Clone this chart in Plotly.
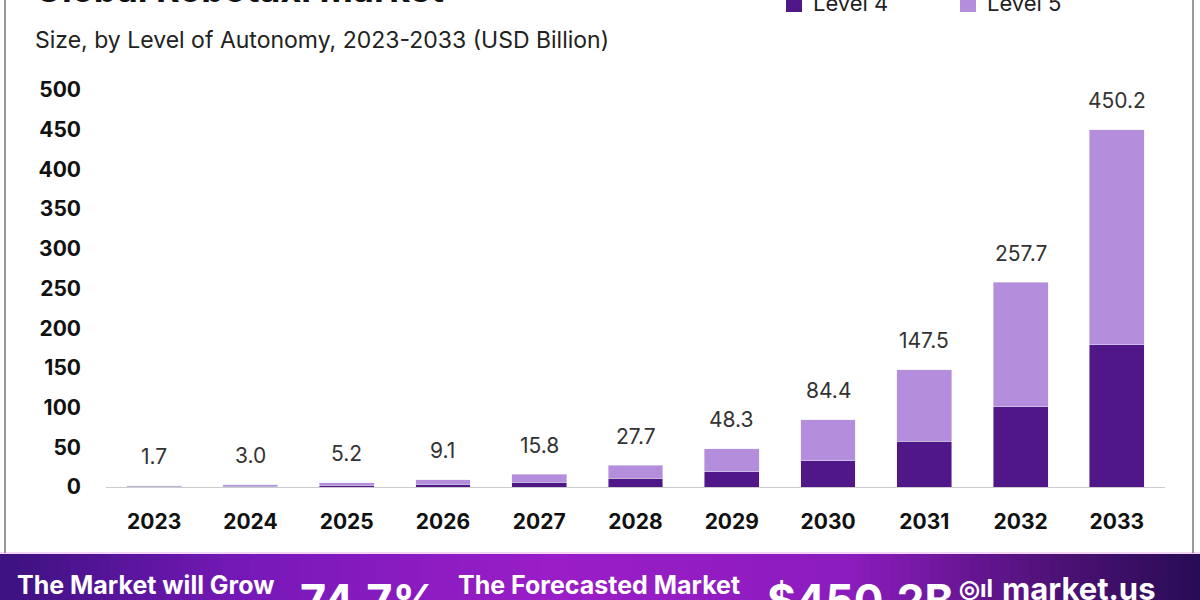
import plotly.graph_objects as go

years = ["2023", "2024", "2025", "2026", "2027", "2028", "2029", "2030", "2031", "2032", "2033"]
totals = [1.7, 3.0, 5.2, 9.1, 15.8, 27.7, 48.3, 84.4, 147.5, 257.7, 450.2]
level4 = [0.7, 1.2, 2.0, 3.6, 6.2, 10.9, 19.0, 33.1, 57.8, 101.0, 179.0]
level5 = [round(t - l, 1) for t, l in zip(totals, level4)]
total_labels = ["1.7", "3.0", "5.2", "9.1", "15.8", "27.7", "48.3", "84.4", "147.5", "257.7", "450.2"]
y_ticks = [0, 50, 100, 150, 200, 250, 300, 350, 400, 450, 500]

C4 = "#4f1787"
C5 = "#b48ddc"
FONT = "Inter, Open Sans, sans-serif"

# plot area in pixels
PX0, PX1, PY_TOP, PY_BOT = 106, 1165, 90, 487
W, H = 1200, 600


def px(x):
    return (x - PX0) / (PX1 - PX0)


def py(y):
    return (PY_BOT - y) / (PY_BOT - PY_TOP)


fig = go.Figure()
fig.add_trace(go.Bar(x=years, y=level4, name="Level 4", marker_color=C4, width=0.57))
fig.add_trace(go.Bar(x=years, y=level5, name="Level 5", marker_color=C5, width=0.57))

annotations = []
for i, (t, lab) in enumerate(zip(totals, total_labels)):
    annotations.append(dict(x=i, y=t, text=lab, showarrow=False, yshift=29,
                            font=dict(size=21, color="#333333", family=FONT),
                            xref="x", yref="y"))

# title and subtitle
annotations.append(dict(xref="paper", yref="paper", x=px(33), y=py(13), xanchor="left", yanchor="bottom",
                        text="<b>Global Robotaxi Market</b>", showarrow=False,
                        font=dict(size=36, color="#111111", family=FONT)))
annotations.append(dict(xref="paper", yref="paper", x=px(33), y=py(40), xanchor="left", yanchor="middle",
                        text="Size, by Level of Autonomy, 2023-2033 (USD Billion)", showarrow=False,
                        font=dict(size=23, color="#222222", family=FONT)))

shapes = []
# manual legend
for sx, name, c in [(786, "Level 4", C4), (960, "Level 5", C5)]:
    shapes.append(dict(type="rect", xref="paper", yref="paper", x0=px(sx), x1=px(sx + 16),
                       y0=py(12), y1=py(-6), line=dict(width=0), fillcolor=c))
    annotations.append(dict(xref="paper", yref="paper", x=px(sx + 25), y=py(3), xanchor="left",
                            yanchor="middle", text=name, showarrow=False,
                            font=dict(size=22, color="#222222", family=FONT)))

# gradient banner at bottom
stops = [(0, (60, 18, 128)), (250, (120, 25, 185)), (550, (155, 30, 200)),
         (850, (140, 28, 190)), (1050, (80, 18, 120)), (1200, (40, 12, 85))]


def col_at(x):
    for (xa, ca), (xb, cb) in zip(stops[:-1], stops[1:]):
        if xa <= x <= xb:
            f = (x - xa) / (xb - xa)
            return "rgb(%d,%d,%d)" % tuple(int(a + (b - a) * f) for a, b in zip(ca, cb))
    return "rgb(%d,%d,%d)" % stops[-1][1]


step = 10
for x in range(0, W, step):
    shapes.append(dict(type="rect", xref="paper", yref="paper", x0=px(x), x1=px(x + step + 1),
                       y0=py(600), y1=py(554), line=dict(width=0), fillcolor=col_at(x + step / 2),
                       layer="above"))
shapes.append(dict(type="line", xref="paper", yref="paper", x0=px(0), x1=px(1200), y0=py(553), y1=py(553),
                   line=dict(color="#f3d6f5", width=2)))
# frame lines
shapes.append(dict(type="line", xref="paper", yref="paper", x0=px(5), x1=px(5), y0=py(0), y1=py(553),
                   line=dict(color="#777777", width=1.5)))
shapes.append(dict(type="line", xref="paper", yref="paper", x0=px(1193), x1=px(1193), y0=py(0), y1=py(553),
                   line=dict(color="#777777", width=1.5)))

# banner texts
banner = [
    (15, "<b>The Market will Grow</b>", 25, 585),
    (298, "<b>74.7%</b>", 45, 600),
    (456, "<b>The Forecasted Market</b>", 25, 585),
    (765, "<b>$450.2B</b>", 44, 600),
    (1000, "<b>market.us</b>", 31, 588),
]
for x, t, s, yc in banner:
    annotations.append(dict(xref="paper", yref="paper", x=px(x), y=py(yc), xanchor="left", yanchor="middle",
                            text=t, showarrow=False, font=dict(size=s, color="white", family=FONT)))
annotations.append(dict(xref="paper", yref="paper", x=px(957), y=py(588), xanchor="left", yanchor="middle",
                        text="<b>◎ıl</b>", showarrow=False, font=dict(size=24, color="white", family=FONT)))

fig.update_layout(
    width=W, height=H,
    margin=dict(l=PX0, r=W - PX1, t=PY_TOP, b=H - PY_BOT, autoexpand=False),
    barmode="stack",
    bargap=0.43,
    plot_bgcolor="white", paper_bgcolor="white",
    font=dict(family=FONT),
    showlegend=False,
    annotations=annotations,
    shapes=shapes,
    xaxis=dict(type="category", range=[-0.5, 10.5], autorange=False, showgrid=False, showline=True,
               linecolor="#cccccc", linewidth=1, tickangle=0,
               tickvals=years, ticktext=["<b>%s</b>" % y for y in years],
               ticks="", tickfont=dict(size=21, color="#111111", family=FONT), ticklabelstandoff=16),
    yaxis=dict(range=[0, 500], autorange=False, tickvals=y_ticks, ticktext=["<b>%d</b>" % v for v in y_ticks],
               showgrid=False, zeroline=False, showline=False, ticks="",
               tickfont=dict(size=21, color="#111111", family=FONT), ticklabelstandoff=24),
)

fig.write_html("out.html")
